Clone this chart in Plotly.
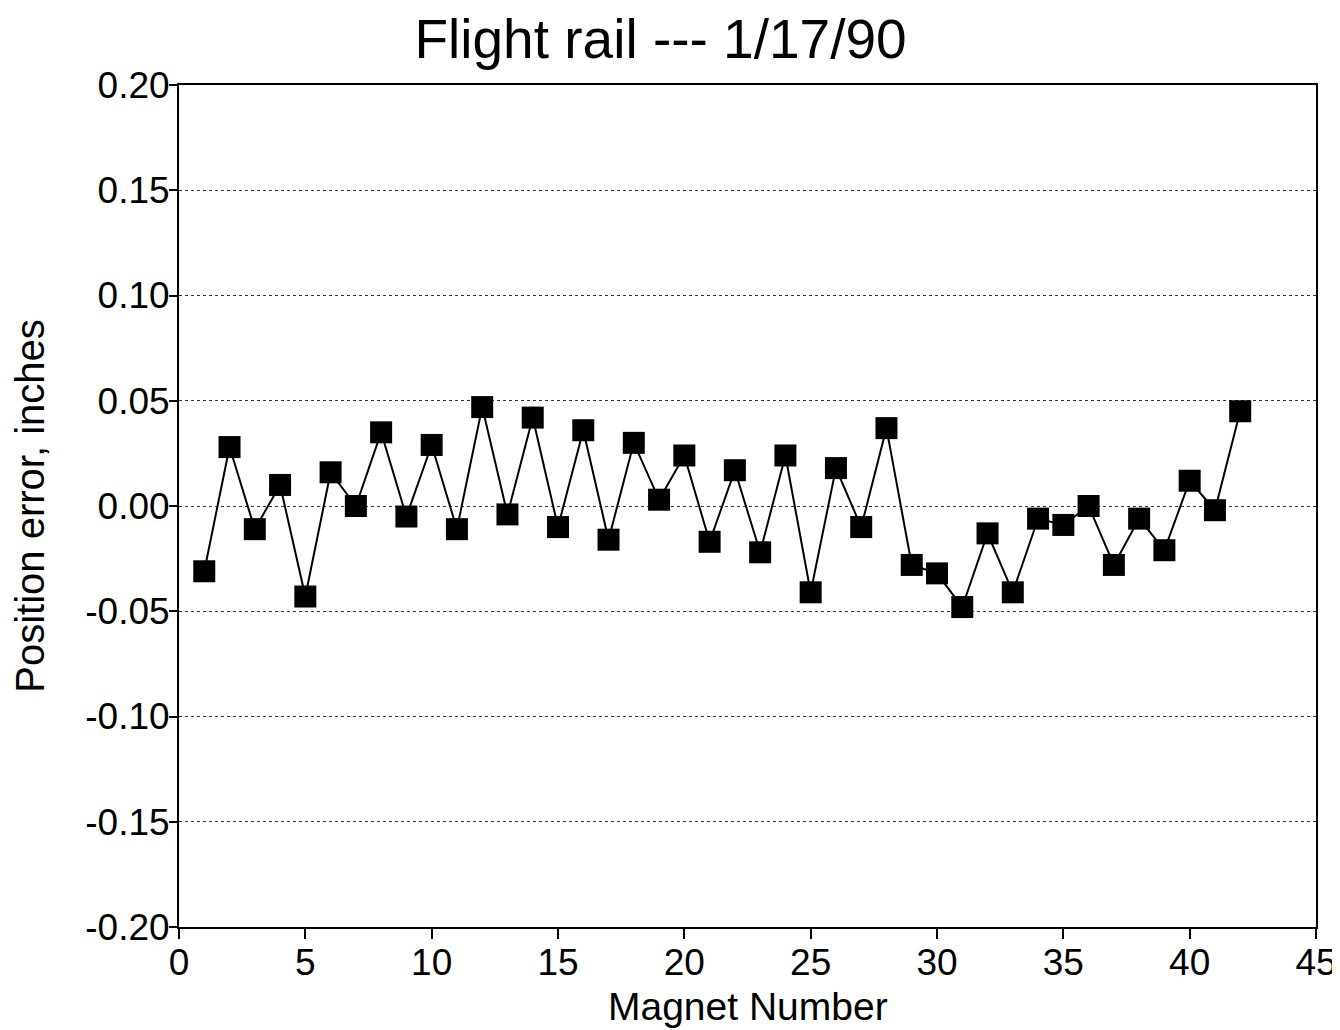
import plotly.graph_objects as go

magnet = list(range(1, 43))
error = [-0.031, 0.028, -0.011, 0.010, -0.043, 0.016, 0.000, 0.035, -0.005, 0.029,
         -0.011, 0.047, -0.004, 0.042, -0.010, 0.036, -0.016, 0.030, 0.003, 0.024,
         -0.017, 0.017, -0.022, 0.024, -0.041, 0.018, -0.010, 0.037, -0.028, -0.032,
         -0.048, -0.013, -0.041, -0.006, -0.009, 0.000, -0.028, -0.006, -0.021, 0.012,
         -0.002, 0.045]

x_ticks = [0, 5, 10, 15, 20, 25, 30, 35, 40, 45]
y_ticks = [-0.20, -0.15, -0.10, -0.05, 0.00, 0.05, 0.10, 0.15, 0.20]
y_labels = ["-0.20", "-0.15", "-0.10", "-0.05", "0.00", "0.05", "0.10", "0.15", "0.20"]

font = "Liberation Sans, Arial, Helvetica, sans-serif"

fig = go.Figure()
fig.add_trace(go.Scatter(
    x=magnet, y=error, mode="lines+markers",
    line=dict(color="black", width=2),
    marker=dict(symbol="square", size=22, color="black"),
    showlegend=False,
))

fig.update_layout(
    width=1340, height=1030,
    margin=dict(l=171, r=32, t=77, b=111),
    paper_bgcolor="white", plot_bgcolor="white",
    font=dict(family=font, color="black", size=36),
    title=dict(text="Flight rail --- 1/17/90", x=0.487, xanchor="center",
               y=0.97, yanchor="middle", font=dict(size=55, family=font)),
    annotations=[dict(text="Magnet Number", xref="paper", yref="paper",
                      x=0.5, y=-0.094, xanchor="center", yanchor="middle",
                      showarrow=False, font=dict(size=39, family=font))],
)
fig.update_xaxes(
    range=[0, 45], tickvals=x_ticks, ticks="outside", ticklen=10, tickwidth=2,
    tickcolor="black", showline=True, linecolor="black", linewidth=2, mirror=True,
    showgrid=False, zeroline=False, ticklabelstandoff=-8,
    tickfont=dict(size=37),
)
fig.update_yaxes(
    range=[-0.20, 0.20], tickvals=y_ticks, ticktext=y_labels, ticks="outside",
    ticklen=8, tickwidth=2, tickcolor="black", showline=True, linecolor="black",
    linewidth=2, mirror=True, showgrid=True, gridcolor="#333333", gridwidth=1,
    griddash="dot", zeroline=False, ticklabelstandoff=-8,
    title=dict(text="Position error, inches", font=dict(size=40), standoff=31),
    tickfont=dict(size=37),
)

fig.write_html("out.html")
